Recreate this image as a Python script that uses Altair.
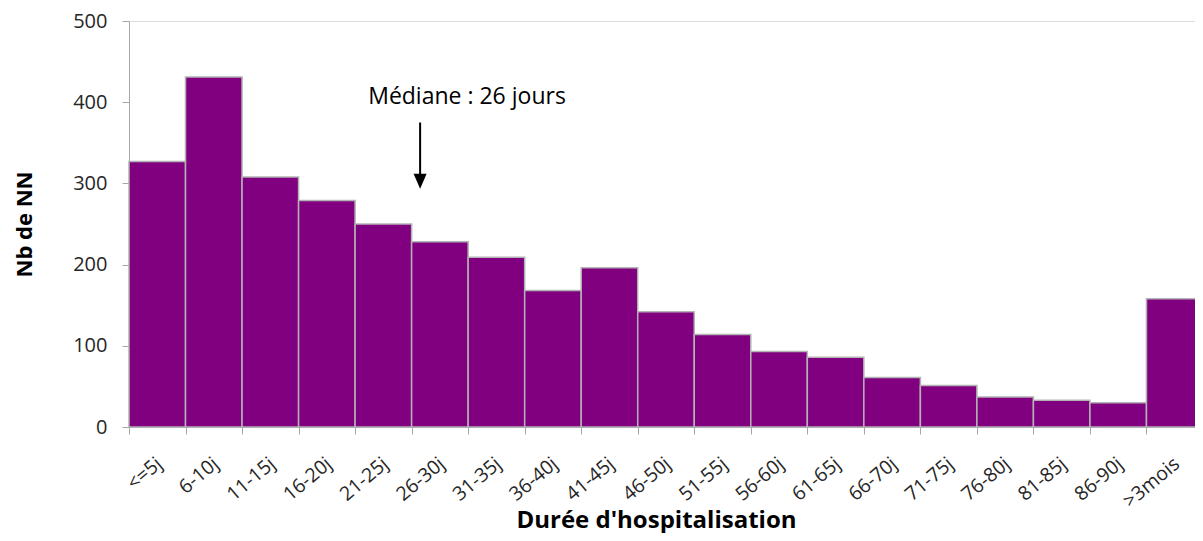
import altair as alt
import pandas as pd

categories = ["<=5j", "6-10j", "11-15j", "16-20j", "21-25j", "26-30j", "31-35j",
              "36-40j", "41-45j", "46-50j", "51-55j", "56-60j", "61-65j", "66-70j",
              "71-75j", "76-80j", "81-85j", "86-90j", ">3mois"]
counts = [327, 431, 308, 279, 250, 228, 209, 168, 196, 142, 114, 93, 86, 61, 51, 37, 33, 30, 158]

median_label = "Médiane : 26 jours"
median_cat = "26-30j"
label_y = [398]
arrow_top = [375]
arrow_head_y = [302.5]

df = pd.DataFrame({"cat": categories, "n": counts})
ann = pd.DataFrame({"cat": [median_cat], "label": [median_label], "ly": label_y,
                    "y1": arrow_top, "y2": arrow_head_y})

FONT = "Open Sans"
LABEL_COLOR = "#262626"
AXIS_GRAY = "#a6a6a6"

xscale = alt.Scale(domain=categories, paddingInner=0, paddingOuter=0, range=[0, 1074])
yscale = alt.Scale(domain=[0, 500])

bars = alt.Chart(df).mark_bar(color="#800080", stroke="#b3b3b3", strokeWidth=1.5).encode(
    x=alt.X("cat:N", scale=xscale, sort=categories,
            axis=alt.Axis(title="Durée d'hospitalisation", labelAngle=-40, tickBand="extent",
                          labelAlign="right", labelBaseline="top",
                          labelFontSize=19.5, labelFont=FONT, labelColor=LABEL_COLOR,
                          titleFont=FONT, titleFontSize=24, titleFontWeight="bold",
                          titleColor="#000000", titleX=527, titleY=100,
                          titleBaseline="alphabetic", titleAlign="center",
                          labelPadding=20, labelOffset=-4, tickSize=7, tickColor=AXIS_GRAY,
                          domainColor=AXIS_GRAY, labelOverlap=False)),
    y=alt.Y("n:Q", scale=yscale,
            axis=alt.Axis(title="Nb de NN", values=[0, 100, 200, 300, 400, 500], grid=False,
                          labelFontSize=20, labelFont=FONT, labelColor=LABEL_COLOR,
                          titleFont=FONT, titleFontSize=22, titleFontWeight="bold",
                          titleColor="#000000", titlePadding=36, labelPadding=15,
                          tickSize=7, tickColor=AXIS_GRAY, domainColor=AXIS_GRAY)),
)

text = alt.Chart(ann).mark_text(font=FONT, fontSize=23, color="#000000", align="center",
                                baseline="alphabetic").encode(
    x=alt.X("cat:N", scale=xscale, sort=categories, bandPosition=0.98),
    y=alt.Y("ly:Q", scale=yscale),
    text="label:N",
)

arrow_line = alt.Chart(ann).mark_rule(color="#000000", strokeWidth=2).encode(
    x=alt.X("cat:N", scale=xscale, sort=categories, bandPosition=0.15),
    y=alt.Y("y1:Q", scale=yscale),
    y2="y2:Q",
)

arrow_head = alt.Chart(ann).mark_point(shape="M-0.87,-1L0.87,-1L0,1Z", filled=True,
                                       color="#000000", size=225, opacity=1,
                                       strokeWidth=0).encode(
    x=alt.X("cat:N", scale=xscale, sort=categories, bandPosition=0.15),
    y=alt.Y("y2:Q", scale=yscale),
)

chart = alt.layer(bars, text, arrow_line, arrow_head).properties(
    width=1066, height=406,
    padding={"left": 121, "top": 13, "right": 0, "bottom": 106},
    autosize=alt.AutoSizeParams(type="none"),
).configure_view(stroke=None).configure(background="#ffffff")

chart.save("out.html", embed_options={"renderer": "svg", "actions": False})
